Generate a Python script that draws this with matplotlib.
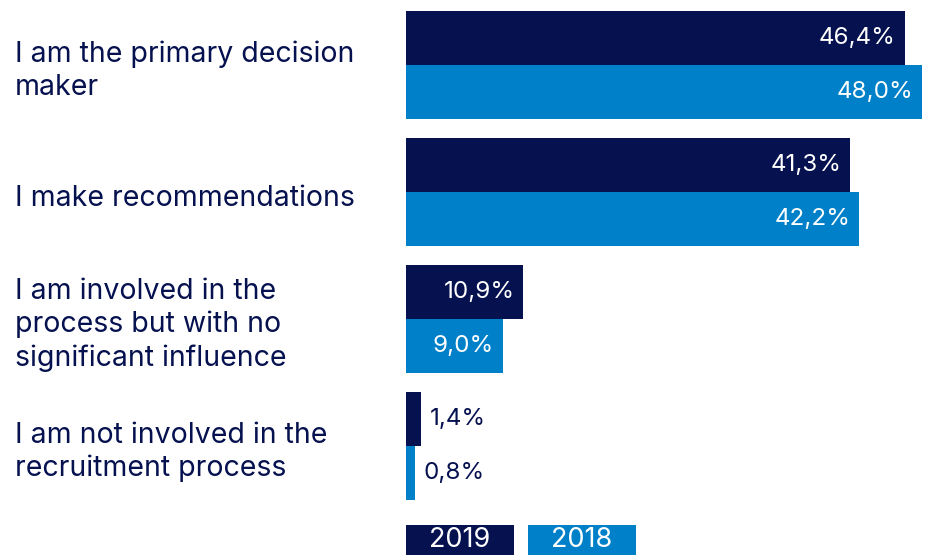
import matplotlib.pyplot as plt
from matplotlib.patches import Rectangle

plt.rcParams['font.family'] = ['Inter', 'DejaVu Sans']

categories = [
    "I am the primary decision\nmaker",
    "I make recommendations",
    "I am involved in the\nprocess but with no\nsignificant influence",
    "I am not involved in the\nrecruitment process",
]
values_2019 = [46.4, 41.3, 10.9, 1.4]
values_2018 = [48.0, 42.2, 9.0, 0.8]
series_names = ["2019", "2018"]

NAVY = '#06114f'
BLUE = '#0080c8'
W, H = 926, 555

fig = plt.figure(figsize=(W / 100, H / 100), dpi=100)
# axes spans full height; x from bar origin to right edge
ax = fig.add_axes([406 / W, 0, 519 / W, 1])
ax.set_xlim(0, 48.3)
pitch = 127.0
bh = 54 / pitch
ax.set_ylim((H - 65) / pitch, -65 / pitch)
ax.axis('off')

ys = list(range(len(categories)))
for vals, off, col in [(values_2019, -bh / 2, NAVY), (values_2018, bh / 2, BLUE)]:
    pos = [y + off for y in ys]
    ax.barh(pos, vals, height=bh, color=col, linewidth=0)
    for p, v in zip(pos, vals):
        txt = f"{v:.1f}%".replace('.', ',')
        if v > 5:
            ax.text(v - 0.8, p, txt, color='white', ha='right', va='center', fontsize=17.4)
        else:
            ax.text(v + 0.8, p, txt, color=NAVY, ha='left', va='center', fontsize=17.4)

for y, lab in zip(ys, categories):
    fig.text(15 / W, 1 - (65 + y * pitch + 6) / H, lab, color=NAVY, fontsize=20.5,
             ha='left', va='center', linespacing=1.27)

# legend boxes at the bottom
for i, (name, col) in enumerate(zip(series_names, [NAVY, BLUE])):
    x0 = 406 + i * 122
    fig.patches.append(Rectangle((x0 / W, 0), 108 / W, 30 / H, transform=fig.transFigure,
                                 color=col, linewidth=0))
    fig.text((x0 + 54) / W, 2 / H, name, color='white', fontsize=19.5,
             ha='center', va='bottom')

fig.savefig('out.png', dpi=100)
